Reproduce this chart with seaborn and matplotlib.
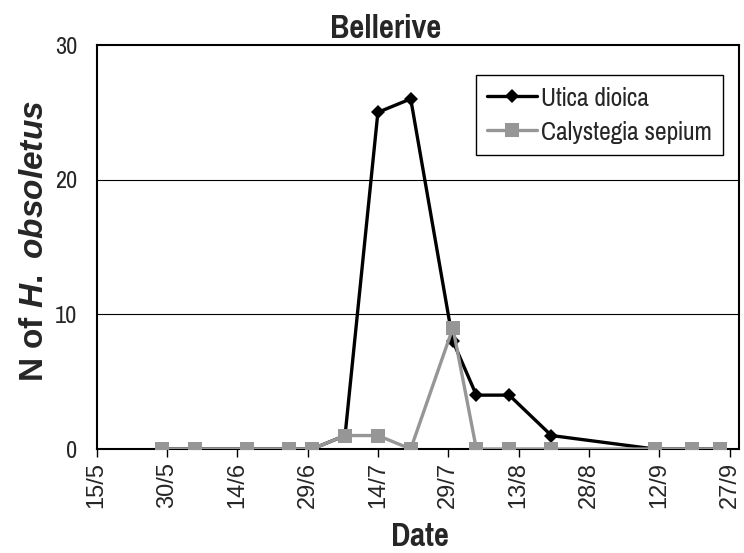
import matplotlib
matplotlib.use("Agg")
import matplotlib.pyplot as plt
import seaborn as sns
import pandas as pd
from matplotlib import font_manager as fm

# ---- data ----
dates = ["2000-05-29", "2000-06-05", "2000-06-16", "2000-06-25", "2000-06-30",
         "2000-07-07", "2000-07-14", "2000-07-21", "2000-07-30", "2000-08-04",
         "2000-08-11", "2000-08-20", "2000-09-11", "2000-09-19", "2000-09-25"]
utica = [0, 0, 0, 0, 0, 1, 25, 26, 8, 4, 4, 1, 0, 0, 0]
calystegia = [0, 0, 0, 0, 0, 1, 1, 0, 9, 0, 0, 0, 0, 0, 0]
tick_dates = ["2000-05-15", "2000-05-30", "2000-06-14", "2000-06-29", "2000-07-14",
              "2000-07-29", "2000-08-13", "2000-08-28", "2000-09-12", "2000-09-27"]
tick_labels = ["15/5", "30/5", "14/6", "29/6", "14/7", "29/7", "13/8", "28/8", "12/9", "27/9"]
yticks = [0, 10, 20, 30]
series_names = ["Utica dioica", "Calystegia sepium"]
title = "Bellerive"

sns.set_theme(style="white")
names = {f.name for f in fm.fontManager.ttflist}
narrow_pref = ["Liberation Sans Narrow", "Arial Narrow", "Nimbus Sans Narrow", "Pragati Narrow",
               "Roboto Condensed", "Archivo Narrow", "PT Sans Narrow"]
narrow_first = next((n for n in narrow_pref if n in names), "Liberation Sans")
narrow = [narrow_first, "Liberation Sans", "DejaVu Sans"]
plt.rcParams["font.family"] = ["Liberation Sans", "DejaVu Sans"]
plt.rcParams["mathtext.fontset"] = "custom"
plt.rcParams["mathtext.it"] = "Liberation Sans:italic:bold"
plt.rcParams["mathtext.rm"] = "Liberation Sans:bold"

df = pd.DataFrame({"date": pd.to_datetime(dates), series_names[0]: utica, series_names[1]: calystegia})

fig = plt.figure(figsize=(7.44, 5.53), dpi=100)
ax = fig.add_axes([96.5/744, 1-449/553, (739-96.5)/744, (449-45)/553])

gray = "#969696"
sns.lineplot(data=df, x="date", y=series_names[0], ax=ax, color="black", marker="D",
             markersize=7, markeredgewidth=0, linewidth=2.4, label=series_names[0], zorder=3)
sns.lineplot(data=df, x="date", y=series_names[1], ax=ax, color=gray, marker="s",
             markersize=9.5, markeredgewidth=0, linewidth=2.4, label=series_names[1], zorder=4)

ax.set_xlim(pd.Timestamp("2000-05-15"), pd.Timestamp("2000-05-15") + pd.Timedelta(days=137))
ax.set_ylim(0, 30)
ax.set_yticks(yticks)
ax.set_yticklabels([str(v) for v in yticks], family=narrow, fontsize=19)
ax.set_xticks(pd.to_datetime(tick_dates))
ax.set_xticklabels(tick_labels, rotation=90, fontsize=17)
ax.tick_params(axis="x", direction="out", length=6, width=1, color="black", pad=3, bottom=True)
ax.tick_params(axis="y", length=0, pad=14)
for y in [10, 20]:
    ax.axhline(y, color="black", linewidth=0.8, zorder=1)
for s in ax.spines.values():
    s.set_visible(True)
    s.set_color("black")
    s.set_linewidth(1.5)
ax.set_xlabel("")
ax.set_ylabel("")
ax.grid(False)

fig.text(386/744, 1-29/553, title, ha="center", va="center", fontsize=25.5, fontweight="bold", family=narrow)
fig.text(420/744, 1-537/553, "Date", ha="center", va="center", fontsize=25.5, fontweight="bold", family=narrow)
fig.text(35/744, 1-241/553, r"N of $\mathit{H.\ obsoletus}$", ha="center", va="center",
         rotation=90, fontsize=24, fontweight="bold")

leg = ax.legend(loc="upper right", bbox_to_anchor=(723/744, 1-75/553), bbox_transform=fig.transFigure,
                frameon=True, fancybox=False, shadow=False, prop={"family": narrow, "size": 20},
                handlelength=1.8, handletextpad=0.15, borderpad=0.4, labelspacing=0.4,
                borderaxespad=0)
leg.get_frame().set_edgecolor("black")
leg.get_frame().set_linewidth(1.0)
leg.get_frame().set_alpha(1)

fig.savefig("out.png", dpi=100)
